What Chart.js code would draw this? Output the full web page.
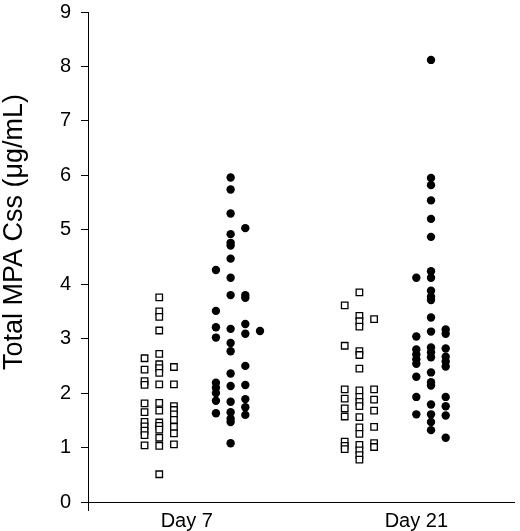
<!DOCTYPE html>
<html>
<head>
<meta charset="utf-8">
<script src="https://cdn.jsdelivr.net/npm/chart.js@4.4.1/dist/chart.umd.min.js"></script>
<style>
  html, body { margin: 0; padding: 0; background: #fff; }
</style>
</head>
<body>
<canvas id="myChart" width="520" height="531"></canvas>
<script>
// categories on the x axis
const categories = ['Day 7', 'Day 21'];
const yTicks = [0, 1, 2, 3, 4, 5, 6, 7, 8, 9];
const yTitle = 'Total MPA Css (μg/mL)';

// values, one inner array per jitter column (left to right)
const day7Open = [
  [2.64, 2.43, 2.22, 2.15, 1.81, 1.65, 1.47, 1.39, 1.31, 1.23, 1.04],
  [3.76, 3.50, 3.40, 3.15, 2.72, 2.53, 2.46, 2.37, 2.16, 1.82, 1.68, 1.46, 1.40, 1.33, 1.18, 1.03, 0.51],
  [2.48, 2.16, 1.76, 1.69, 1.61, 1.51, 1.38, 1.26, 1.06]
];
const day7Filled = [
  [4.26, 3.51, 3.21, 3.02, 2.19, 2.10, 2.00, 1.86, 1.63],
  [5.96, 5.74, 5.30, 4.92, 4.76, 4.71, 4.47, 4.12, 3.80, 3.18, 2.92, 2.77, 2.36, 2.13, 1.84, 1.65, 1.53, 1.47, 1.08],
  [5.03, 3.80, 3.75, 3.27, 3.09, 2.50, 2.15, 1.89, 1.74, 1.60],
  [3.14]
];
const day21Open = [
  [3.61, 2.87, 2.07, 1.90, 1.72, 1.57, 1.11, 1.03, 0.97],
  [3.85, 3.42, 3.32, 3.22, 2.77, 2.70, 2.45, 2.05, 1.93, 1.84, 1.76, 1.56, 1.37, 1.25, 1.05, 0.95, 0.86, 0.78],
  [3.36, 2.07, 1.88, 1.68, 1.38, 1.08, 1.01]
];
const day21Filled = [
  [4.12, 3.04, 2.80, 2.71, 2.62, 2.54, 2.30, 1.93, 1.61],
  [8.12, 5.95, 5.82, 5.54, 5.20, 4.87, 4.24, 4.12, 3.88, 3.77, 3.71, 3.39, 3.13, 2.84, 2.75, 2.66, 2.38, 2.20, 2.14, 1.79, 1.61, 1.47, 1.32],
  [3.17, 3.09, 2.82, 2.67, 2.58, 2.49, 1.93, 1.76, 1.59, 1.18]
];

// layout of the jitter: category n sits at x = n, groups shifted a bit either side
const colStep = 0.064;
function jitter(cols, center) {
  const pts = [];
  cols.forEach((col, i) => {
    col.forEach(v => pts.push({ x: center + (i - 1) * colStep, y: v }));
  });
  return pts;
}

const openPoints = jitter(day7Open, 1 - 0.120).concat(jitter(day21Open, 2 - 0.248));
const filledPoints = jitter(day7Filled, 1 + 0.191).concat(jitter(day21Filled, 2 + 0.064));

const font = "'Liberation Sans', Arial, sans-serif";

// y title drawn a little above the axis middle, as in the original
const yTitlePlugin = {
  id: 'yTitle',
  afterDraw(chart) {
    const { ctx, chartArea } = chart;
    ctx.save();
    ctx.translate(15, (chartArea.top + chartArea.bottom) / 2 - 25);
    ctx.rotate(-Math.PI / 2);
    ctx.font = '27px ' + font;
    ctx.fillStyle = '#000';
    ctx.textAlign = 'center';
    ctx.textBaseline = 'middle';
    ctx.fillText(yTitle, 0, 0);
    ctx.restore();
  }
};

const ctx = document.getElementById('myChart').getContext('2d');
new Chart(ctx, {
  type: 'scatter',
  data: {
    datasets: [
      {
        label: 'open',
        data: openPoints,
        pointStyle: 'rect',
        pointRadius: 4.6,
        pointBackgroundColor: '#fff',
        pointBorderColor: '#000',
        pointBorderWidth: 1.3
      },
      {
        label: 'filled',
        data: filledPoints,
        pointStyle: 'circle',
        pointRadius: 4.2,
        pointBackgroundColor: '#000',
        pointBorderColor: '#000',
        pointBorderWidth: 0
      }
    ]
  },
  options: {
    responsive: false,
    animation: false,
    devicePixelRatio: 1,
    layout: { padding: { left: 0, right: 5, top: 12, bottom: 0 } },
    plugins: {
      legend: { display: false },
      tooltip: { enabled: false }
    },
    scales: {
      x: {
        type: 'linear',
        min: 0.5696,
        max: 2.426,
        afterBuildTicks: scale => {
          scale.ticks = [scale.min, 1, 2].map(v => ({ value: v }));
        },
        afterFit: scale => {
          scale.height = 29;
          scale.paddingLeft = 0;
          scale.paddingRight = 0;
        },
        ticks: {
          color: '#000',
          font: { family: font, size: 20 },
          padding: -2,
          maxRotation: 0,
          autoSkip: false,
          callback: v => (v === 1 ? categories[0] : v === 2 ? categories[1] : '')
        },
        grid: {
          drawOnChartArea: false,
          drawTicks: true,
          tickLength: 9,
          color: c => (c.index === 0 ? '#000' : 'rgba(0,0,0,0)')
        },
        border: { display: true, color: '#000', width: 1 }
      },
      y: {
        min: 0,
        max: 9,
        afterBuildTicks: scale => {
          scale.ticks = yTicks.map(v => ({ value: v }));
        },
        afterFit: scale => {
          scale.width = 88;
          scale.paddingTop = 0;
          scale.paddingBottom = 0;
        },
        ticks: {
          color: '#000',
          font: { family: font, size: 20 },
          padding: 10
        },
        grid: {
          drawOnChartArea: false,
          drawTicks: true,
          tickLength: 7,
          color: '#000'
        },
        border: { display: true, color: '#000', width: 1 }
      }
    }
  },
  plugins: [yTitlePlugin]
});
</script>
</body>
</html>
